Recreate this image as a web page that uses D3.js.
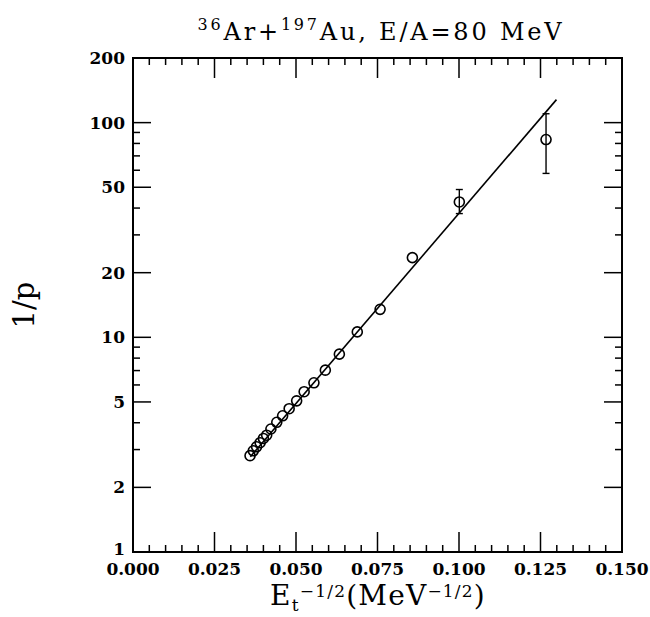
<!DOCTYPE html>
<html>
<head>
<meta charset="utf-8">
<script src="https://cdn.jsdelivr.net/npm/d3@7"></script>
<style>
  html, body { margin: 0; padding: 0; background: #fff; }
  svg text { font-family: "DejaVu Serif", "Liberation Serif", serif; fill: #000; }
</style>
</head>
<body>
<svg id="chart" width="650" height="617"></svg>
<script>
// ---- data ----
const xVals = [0.0359, 0.0369, 0.0379, 0.0390, 0.0400, 0.0410, 0.0423, 0.0441, 0.0459, 0.0479,
               0.0502, 0.0525, 0.0555, 0.0590, 0.0633, 0.0688, 0.0758, 0.0857, 0.1001, 0.1267];
const invP  = [2.81, 2.96, 3.09, 3.23, 3.38, 3.50, 3.74, 4.02, 4.31, 4.65,
               5.06, 5.58, 6.14, 7.03, 8.35, 10.6, 13.5, 23.5, 42.7, 83.4];
const errX    = [0.1001, 0.1267];
const errLow  = [37.7, 58];
const errHigh = [48.8, 110];
const fitX = [0.0360, 0.1299];
const fitY = [2.78, 128];
const xMajorTicks = [0, 0.025, 0.05, 0.075, 0.1, 0.125, 0.15];
const yMajorTicks = [1, 2, 5, 10, 20, 50, 100, 200];
const yMinorTicks = [3, 4, 6, 7, 8, 9, 30, 40, 60, 70, 80, 90];

// ---- layout ----
const L = 133, R = 622, T = 58, B = 552;
const svg = d3.select("#chart");
const x = d3.scaleLinear().domain([0, 0.15]).range([L, R]);
const y = d3.scaleLog().domain([1, 200]).range([B, T]);

const xMinorTicks = d3.range(0, 0.1501, 0.005).filter(v => Math.abs(v / 0.025 - Math.round(v / 0.025)) > 1e-6);

const majLen = 20, minLen = 7;
const g = svg.append("g").attr("stroke", "#000").attr("stroke-width", 1.5);

// bottom & top ticks
xMajorTicks.forEach(v => {
  g.append("line").attr("x1", x(v)).attr("x2", x(v)).attr("y1", B).attr("y2", B - majLen);
  g.append("line").attr("x1", x(v)).attr("x2", x(v)).attr("y1", T).attr("y2", T + majLen);
});
xMinorTicks.forEach(v => {
  g.append("line").attr("x1", x(v)).attr("x2", x(v)).attr("y1", B).attr("y2", B - minLen);
  g.append("line").attr("x1", x(v)).attr("x2", x(v)).attr("y1", T).attr("y2", T + minLen);
});
// left & right ticks
yMajorTicks.forEach(v => {
  g.append("line").attr("x1", L).attr("x2", L + 18).attr("y1", y(v)).attr("y2", y(v));
  g.append("line").attr("x1", R).attr("x2", R - 18).attr("y1", y(v)).attr("y2", y(v));
});
yMinorTicks.forEach(v => {
  g.append("line").attr("x1", L).attr("x2", L + minLen).attr("y1", y(v)).attr("y2", y(v));
  g.append("line").attr("x1", R).attr("x2", R - minLen).attr("y1", y(v)).attr("y2", y(v));
});

// frame
svg.append("rect").attr("x", L).attr("y", T).attr("width", R - L).attr("height", B - T)
  .attr("fill", "none").attr("stroke", "#000").attr("stroke-width", 2);

// tick labels
svg.append("g").selectAll("text").data(xMajorTicks).join("text")
  .attr("x", d => x(d)).attr("y", 575).attr("text-anchor", "middle")
  .attr("font-size", 17).attr("font-weight", "bold").text(d => d3.format(".3f")(d));
svg.append("g").selectAll("text").data(yMajorTicks).join("text")
  .attr("x", 125).attr("y", d => y(d) - (d === 1 ? 3 : 0)).attr("dy", "0.36em").attr("text-anchor", "end")
  .attr("font-size", 17).attr("font-weight", "bold").text(d => d);

// fit line
const line = d3.line().x(d => x(d[0])).y(d => y(d[1]));
svg.append("path").datum(fitX.map((v, i) => [v, fitY[i]])).attr("d", line)
  .attr("fill", "none").attr("stroke", "#000").attr("stroke-width", 1.6);

// error bars
const eb = svg.append("g").attr("stroke", "#000").attr("stroke-width", 1.4);
errX.forEach((v, i) => {
  eb.append("line").attr("x1", x(v)).attr("x2", x(v)).attr("y1", y(errLow[i])).attr("y2", y(errHigh[i]));
  [errLow[i], errHigh[i]].forEach(e => {
    eb.append("line").attr("x1", x(v) - 3.5).attr("x2", x(v) + 3.5).attr("y1", y(e)).attr("y2", y(e));
  });
});

// points
svg.append("g").selectAll("circle").data(xVals.map((v, i) => [v, invP[i]])).join("circle")
  .attr("cx", d => x(d[0])).attr("cy", d => y(d[1])).attr("r", 5)
  .attr("fill", "none").attr("stroke", "#000").attr("stroke-width", 1.6);

// title
const title = svg.append("text").attr("x", 381).attr("y", 40).attr("text-anchor", "middle")
  .attr("font-size", 24).attr("letter-spacing", 2.8);
title.append("tspan").attr("font-size", 16).attr("dy", -10).text("36");
title.append("tspan").attr("dy", 10).text("Ar+");
title.append("tspan").attr("font-size", 16).attr("dy", -10).text("197");
title.append("tspan").attr("dy", 10).text("Au, E/A=80 MeV");

// x-axis label
const xl = svg.append("text").attr("x", 378).attr("y", 605).attr("text-anchor", "middle")
  .attr("font-size", 28).attr("letter-spacing", 1.2);
xl.append("tspan").text("E");
xl.append("tspan").attr("font-size", 17).attr("dy", 6).text("t");
xl.append("tspan").attr("font-size", 17).attr("dy", -14).text("−1/2");
xl.append("tspan").attr("dy", 8).text("(MeV");
xl.append("tspan").attr("font-size", 17).attr("dy", -8).text("−1/2");
xl.append("tspan").attr("dy", 8).text(")");

// y-axis label
svg.append("text").attr("transform", "translate(34,305) rotate(-90)")
  .attr("text-anchor", "middle").attr("font-size", 29).text("1/p");
</script>
</body>
</html>
